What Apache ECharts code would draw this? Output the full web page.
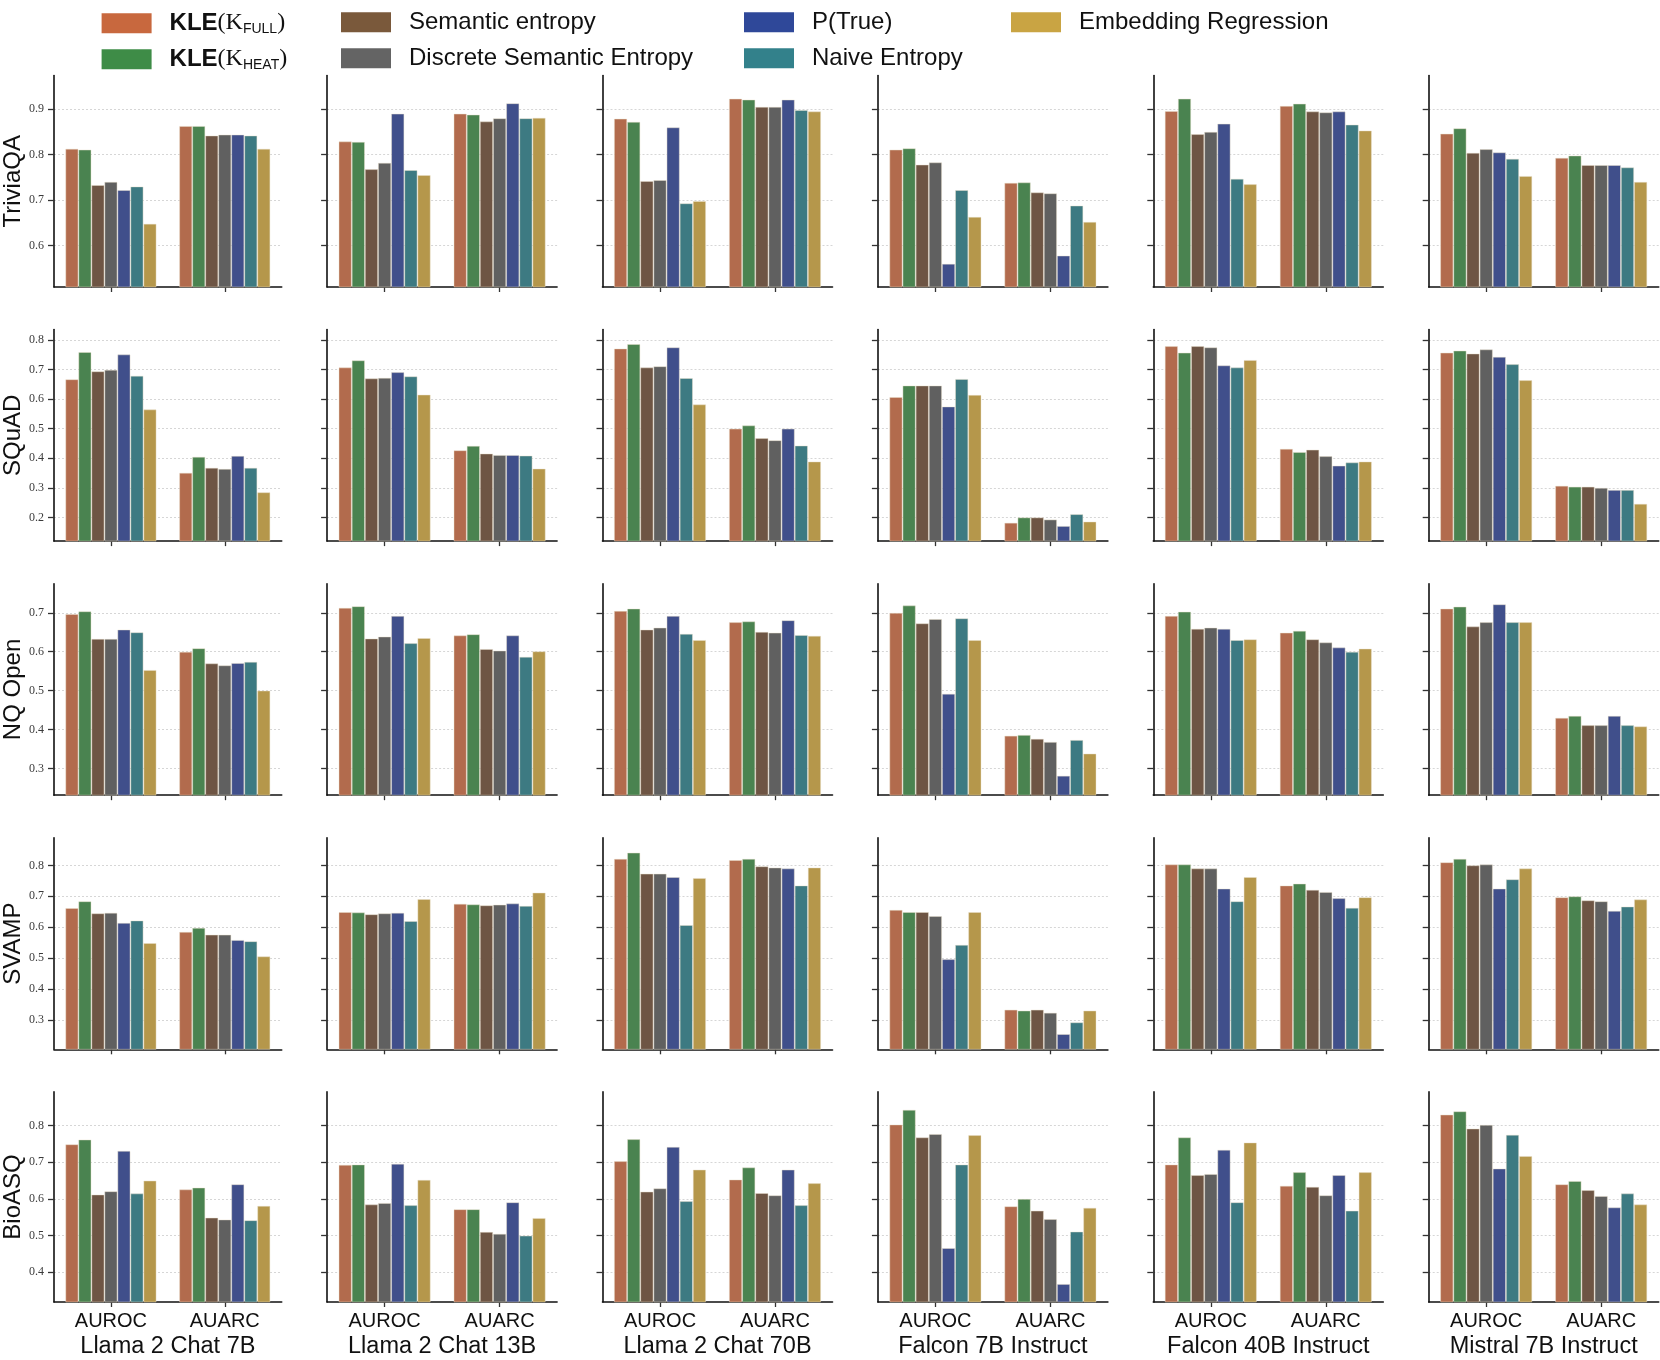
<!DOCTYPE html>
<html>
<head>
<meta charset="utf-8">
<script src="https://cdn.jsdelivr.net/npm/echarts@6/dist/echarts.min.js"></script>
<style>
html,body{margin:0;padding:0;background:#fff;}
#chart{width:1660px;height:1360px;}
</style>
</head>
<body>
<div id="chart"></div>
<script>
// ---------- data ----------
const DATASETS = ['TriviaQA', 'SQuAD', 'NQ Open', 'SVAMP', 'BioASQ'];
const MODELS = ['Llama 2 Chat 7B', 'Llama 2 Chat 13B', 'Llama 2 Chat 70B', 'Falcon 7B Instruct', 'Falcon 40B Instruct', 'Mistral 7B Instruct'];
const METRICS = ['AUROC', 'AUARC'];
const METHODS = ['KLE(K_FULL)', 'KLE(K_HEAT)', 'Semantic entropy', 'Discrete Semantic Entropy', 'P(True)', 'Naive Entropy', 'Embedding Regression'];

// [dataset][model] -> [AUROC, AUARC]
const kleFull = [
  [[0.813,0.863],[0.829,0.890],[0.879,0.923],[0.811,0.738],[0.896,0.907],[0.846,0.793]],
  [[0.667,0.351],[0.707,0.427],[0.771,0.500],[0.607,0.182],[0.779,0.432],[0.757,0.307]],
  [[0.697,0.600],[0.713,0.642],[0.705,0.676],[0.700,0.384],[0.692,0.649],[0.711,0.430]],
  [[0.662,0.585],[0.649,0.676],[0.821,0.817],[0.656,0.334],[0.803,0.735],[0.810,0.697]],
  [[0.749,0.626],[0.693,0.572],[0.703,0.653],[0.803,0.580],[0.694,0.636],[0.830,0.640]]
];
const kleHeat = [
  [[0.811,0.863],[0.828,0.888],[0.872,0.921],[0.814,0.739],[0.923,0.912],[0.858,0.798]],
  [[0.759,0.405],[0.731,0.442],[0.786,0.511],[0.646,0.200],[0.757,0.421],[0.764,0.304]],
  [[0.704,0.609],[0.717,0.645],[0.711,0.678],[0.719,0.386],[0.703,0.654],[0.716,0.435]],
  [[0.684,0.598],[0.648,0.674],[0.841,0.821],[0.649,0.331],[0.803,0.741],[0.821,0.700]],
  [[0.762,0.631],[0.694,0.572],[0.763,0.686],[0.843,0.600],[0.768,0.673],[0.839,0.649]]
];
const semanticEntropy = [
  [[0.733,0.842],[0.768,0.873],[0.742,0.905],[0.778,0.717],[0.845,0.895],[0.804,0.777]],
  [[0.694,0.368],[0.670,0.416],[0.707,0.468],[0.646,0.200],[0.779,0.429],[0.754,0.304]],
  [[0.633,0.570],[0.634,0.607],[0.657,0.651],[0.673,0.376],[0.659,0.632],[0.665,0.411]],
  [[0.645,0.576],[0.642,0.671],[0.773,0.797],[0.649,0.334],[0.790,0.721],[0.800,0.687]],
  [[0.612,0.549],[0.585,0.510],[0.620,0.616],[0.768,0.568],[0.665,0.633],[0.792,0.624]]
];
const discreteSE = [
  [[0.740,0.844],[0.782,0.880],[0.744,0.905],[0.783,0.715],[0.850,0.893],[0.812,0.777]],
  [[0.699,0.364],[0.672,0.411],[0.711,0.461],[0.646,0.193],[0.775,0.407],[0.768,0.300]],
  [[0.633,0.565],[0.639,0.603],[0.662,0.649],[0.684,0.368],[0.662,0.624],[0.676,0.411]],
  [[0.647,0.576],[0.645,0.673],[0.773,0.793],[0.636,0.324],[0.790,0.714],[0.803,0.684]],
  [[0.621,0.544],[0.589,0.505],[0.629,0.610],[0.777,0.545],[0.668,0.610],[0.802,0.608]]
];
const pTrue = [
  [[0.722,0.844],[0.890,0.913],[0.860,0.921],[0.560,0.578],[0.868,0.895],[0.805,0.777]],
  [[0.751,0.408],[0.691,0.411],[0.775,0.500],[0.575,0.171],[0.714,0.375],[0.743,0.293]],
  [[0.657,0.571],[0.692,0.642],[0.692,0.681],[0.492,0.281],[0.659,0.611],[0.722,0.435]],
  [[0.614,0.559],[0.647,0.677],[0.762,0.790],[0.497,0.255],[0.725,0.694],[0.725,0.653]],
  [[0.731,0.640],[0.696,0.591],[0.742,0.680],[0.466,0.368],[0.734,0.665],[0.683,0.577]]
];
const naiveEntropy = [
  [[0.730,0.842],[0.766,0.880],[0.693,0.898],[0.722,0.688],[0.747,0.866],[0.791,0.772]],
  [[0.679,0.368],[0.677,0.409],[0.671,0.443],[0.668,0.211],[0.707,0.386],[0.718,0.293]],
  [[0.650,0.574],[0.622,0.587],[0.646,0.643],[0.686,0.373],[0.630,0.600],[0.676,0.411]],
  [[0.622,0.555],[0.620,0.669],[0.607,0.735],[0.543,0.293],[0.684,0.663],[0.755,0.667]],
  [[0.615,0.542],[0.583,0.500],[0.594,0.583],[0.694,0.511],[0.591,0.568],[0.775,0.615]]
];
const embeddingRegression = [
  [[0.648,0.813],[0.755,0.881],[0.698,0.895],[0.663,0.652],[0.735,0.853],[0.753,0.740]],
  [[0.565,0.285],[0.615,0.365],[0.582,0.389],[0.614,0.186],[0.732,0.389],[0.664,0.246]],
  [[0.553,0.500],[0.635,0.601],[0.630,0.641],[0.630,0.338],[0.632,0.608],[0.676,0.408]],
  [[0.549,0.506],[0.691,0.712],[0.759,0.793],[0.649,0.331],[0.762,0.697],[0.790,0.690]],
  [[0.650,0.581],[0.652,0.548],[0.680,0.643],[0.774,0.576],[0.754,0.673],[0.717,0.585]]
];

// y-axis limits and tick labels per dataset row
const yMin = [0.509, 0.12, 0.231, 0.206, 0.319];
const yMax = [0.974, 0.835, 0.775, 0.889, 0.892];
const yTicks = [
  [0.6, 0.7, 0.8, 0.9],
  [0.2, 0.3, 0.4, 0.5, 0.6, 0.7, 0.8],
  [0.3, 0.4, 0.5, 0.6, 0.7],
  [0.3, 0.4, 0.5, 0.6, 0.7, 0.8],
  [0.4, 0.5, 0.6, 0.7, 0.8]
];

// ---------- styles ----------
const SERIES_DATA = [kleFull, kleHeat, semanticEntropy, discreteSE, pTrue, naiveEntropy, embeddingRegression];
const BAR_COLORS = ['#b26b4d', '#4a8350', '#6e5544', '#606060', '#404f8b', '#3d7a82', '#b5974b'];
const LEGEND_COLORS = ['#c8683e', '#3e8c47', '#7a593b', '#646464', '#2f4899', '#33818b', '#c9a443'];
const SANS = "'Liberation Sans', Arial, sans-serif";
const SERIF = "'Liberation Serif', 'DejaVu Serif', serif";

const GRID_LEFT0 = 51.7, GRID_STEP_X = 275.4, GRID_W = 230;
const GRID_TOP0 = 75.5, GRID_STEP_Y = 254.1, GRID_H = 211.5;

const grids = [], xAxes = [], yAxes = [], series = [];
let g = 0;
for (let r = 0; r < DATASETS.length; r++) {
  for (let c = 0; c < MODELS.length; c++) {
    grids.push({
      left: GRID_LEFT0 + GRID_STEP_X * c,
      top: GRID_TOP0 + GRID_STEP_Y * r,
      width: GRID_W,
      height: GRID_H,
      containLabel: false
    });
    const bottomRow = r === DATASETS.length - 1;
    xAxes.push({
      type: 'category',
      gridIndex: g,
      data: METRICS,
      boundaryGap: true,
      axisLine: { show: true, lineStyle: { color: '#111', width: 1.6 } },
      axisTick: { show: true, alignWithLabel: true, length: 5, lineStyle: { color: '#333', width: 1.3 } },
      axisLabel: { show: bottomRow, color: '#111', fontSize: 20, fontFamily: SANS, margin: 9 },
      splitLine: { show: false },
      name: bottomRow ? MODELS[c] : '',
      nameLocation: 'middle',
      nameGap: 33,
      nameTextStyle: { color: '#111', fontSize: 23.5, fontFamily: SANS }
    });
    yAxes.push({
      type: 'value',
      gridIndex: g,
      min: yMin[r],
      max: yMax[r],
      axisLine: { show: true, lineStyle: { color: '#111', width: 1.6 } },
      axisTick: { show: true, length: 6, customValues: yTicks[r], lineStyle: { color: '#333', width: 1.3 } },
      axisLabel: {
        show: c === 0, customValues: yTicks[r], color: '#3a3a3a', fontSize: 12,
        fontFamily: SERIF, margin: 10,
        formatter: v => v.toFixed(1)
      },
      splitLine: { show: true, lineStyle: { color: '#cccccc', width: 0.8, type: [2, 2] } },
      name: c === 0 ? DATASETS[r] : '',
      nameLocation: 'middle',
      nameRotate: 90,
      nameGap: 29,
      nameTextStyle: { color: '#111', fontSize: 24, fontFamily: SANS }
    });
    for (let m = 0; m < METHODS.length; m++) {
      series.push({
        type: 'bar',
        name: METHODS[m],
        xAxisIndex: g,
        yAxisIndex: g,
        data: SERIES_DATA[m][r][c],
        barGap: '0%',
        barCategoryGap: '20%',
        itemStyle: { color: BAR_COLORS[m], borderColor: 'rgba(235,225,205,0.55)', borderWidth: 0.8 },
        emphasis: { disabled: true },
        silent: true
      });
    }
    g++;
  }
}

// legend: 4 columns x 2 rows (column-major)
const LEGEND_COLS = [101.6, 341, 744, 1011];
const LEGEND_ROWS = [24.2, 60.2];
const legendRich = {
  n: { fontFamily: SANS, fontSize: 24, color: '#111', lineHeight: 28 },
  b: { fontFamily: SANS, fontSize: 24, fontWeight: 'bold', color: '#111', lineHeight: 28 },
  p: { fontFamily: SERIF, fontSize: 24, color: '#111', lineHeight: 28 },
  s: { fontFamily: SANS, fontSize: 14, color: '#111', lineHeight: 28, padding: [12, 0, 0, 0] }
};
function legendLabel(name) {
  if (name === 'KLE(K_FULL)') return '{b|KLE}{p|(K}{s|FULL}{p|)}';
  if (name === 'KLE(K_HEAT)') return '{b|KLE}{p|(K}{s|HEAT}{p|)}';
  return '{n|' + name + '}';
}
const legends = METHODS.map((name, i) => {
  const col = Math.floor(i / 2), row = i % 2;
  return {
    left: LEGEND_COLS[col],
    top: LEGEND_ROWS[row] - 14,
    padding: 0,
    orient: 'horizontal',
    selectedMode: false,
    icon: 'rect',
    itemWidth: 50,
    itemHeight: 20,
    data: [{ name: name, itemStyle: { color: LEGEND_COLORS[i], borderWidth: 0 } }],
    formatter: legendLabel,
    textStyle: { padding: [0, 0, 0, 13], rich: legendRich, fontSize: 24, fontFamily: SANS, color: '#111' }
  };
});

const chart = echarts.init(document.getElementById('chart'), null, { renderer: 'canvas' });
chart.setOption({
  animation: false,
  backgroundColor: '#ffffff',
  legend: legends,
  grid: grids,
  xAxis: xAxes,
  yAxis: yAxes,
  series: series
});
</script>
</body>
</html>
